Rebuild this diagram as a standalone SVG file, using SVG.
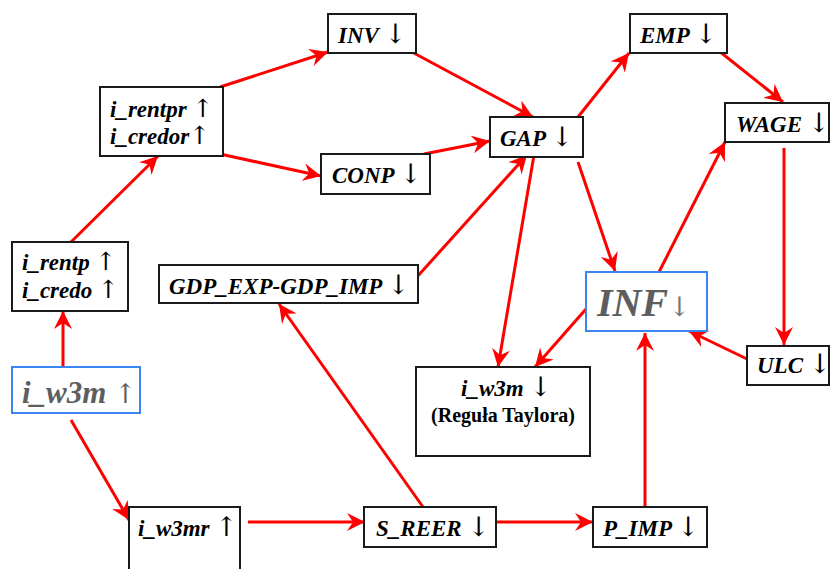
<svg xmlns="http://www.w3.org/2000/svg" width="830" height="569" viewBox="0 0 830 569">
  <defs>
    <marker id="head" markerWidth="19" markerHeight="18" refX="18" refY="9" orient="auto" markerUnits="userSpaceOnUse">
      <path d="M0,0 L18,9 L0,18 L6,9 z" fill="#ff0000"/>
    </marker>
    <style>
      .box { fill: #ffffff; stroke: #1a1a1a; stroke-width: 2; }
      .hub { fill: #ffffff; stroke: #3a86f0; stroke-width: 2; }
      .lbl { font-family: "Liberation Serif", "Times New Roman", serif; font-weight: bold; font-style: italic; font-size: 23px; fill: #000000; }
      .big { font-family: "Liberation Serif", "Times New Roman", serif; font-weight: bold; font-style: italic; fill: #5e5e5e; }
      .arw { font-weight: normal; font-style: normal; font-family: "DejaVu Serif", serif; font-size: 27px; }
      .sm { font-size: 25px; }
      .sub { font-family: "Liberation Serif", "Times New Roman", serif; font-weight: bold; font-size: 20px; fill: #000000; }
      .link { stroke: #ff0000; stroke-width: 3; fill: none; marker-end: url(#head); }
    </style>
  </defs>
  <rect width="830" height="569" fill="#ffffff"/>

  <g id="connectors">
    <line class="link" x1="63" y1="367" x2="63" y2="311"/>
    <line class="link" x1="71" y1="242" x2="158" y2="156"/>
    <line class="link" x1="220" y1="87" x2="328" y2="52"/>
    <line class="link" x1="220" y1="154" x2="321" y2="176"/>
    <line class="link" x1="410" y1="51" x2="533" y2="117"/>
    <line class="link" x1="424" y1="154" x2="490" y2="141"/>
    <line class="link" x1="416" y1="278" x2="527" y2="155"/>
    <line class="link" x1="578" y1="117" x2="629" y2="53"/>
    <line class="link" x1="719" y1="51" x2="783" y2="102"/>
    <line class="link" x1="578" y1="162" x2="615" y2="271"/>
    <line class="link" x1="659" y1="272" x2="725" y2="142"/>
    <line class="link" x1="784" y1="148" x2="784" y2="345"/>
    <line class="link" x1="747" y1="359" x2="689" y2="331"/>
    <line class="link" x1="534" y1="155" x2="498" y2="367"/>
    <line class="link" x1="586" y1="309" x2="535" y2="367"/>
    <line class="link" x1="645" y1="507" x2="645" y2="333"/>
    <line class="link" x1="423" y1="507" x2="279" y2="304"/>
    <line class="link" x1="491" y1="522" x2="593" y2="522"/>
    <line class="link" x1="248" y1="522" x2="365" y2="522"/>
    <line class="link" x1="71" y1="420" x2="129" y2="520"/>
  </g>

  <g id="i_rentpr">
    <rect class="box" x="100" y="87" width="123" height="69"/>
    <text class="lbl" x="110" y="117">i_rentpr <tspan class="arw sm">↑</tspan></text>
    <text class="lbl" x="110" y="144">i_credor<tspan class="arw sm">↑</tspan></text>
  </g>
  <g id="i_rentp">
    <rect class="box" x="12" y="242" width="116" height="69"/>
    <text class="lbl" x="22" y="270">i_rentp <tspan class="arw sm">↑</tspan></text>
    <text class="lbl" x="22" y="298">i_credo <tspan class="arw sm">↑</tspan></text>
  </g>
  <g id="i_w3m_up">
    <rect class="hub" x="12" y="367" width="128" height="46"/>
    <text class="big" x="22" y="403" font-size="31">i_w3m <tspan class="arw" font-size="36">↑</tspan></text>
  </g>
  <g id="INV">
    <rect class="box" x="328" y="14" width="88" height="39"/>
    <text class="lbl" x="338" y="43">INV <tspan class="arw">↓</tspan></text>
  </g>
  <g id="CONP">
    <rect class="box" x="321" y="154" width="109" height="40"/>
    <text class="lbl" x="332" y="183">CONP <tspan class="arw">↓</tspan></text>
  </g>
  <g id="GAP">
    <rect class="box" x="490" y="117" width="93" height="40"/>
    <text class="lbl" x="500" y="146">GAP <tspan class="arw">↓</tspan></text>
  </g>
  <g id="EMP">
    <rect class="box" x="630" y="14" width="97" height="39"/>
    <text class="lbl" x="640" y="43">EMP <tspan class="arw">↓</tspan></text>
  </g>
  <g id="WAGE">
    <rect class="box" x="725" y="103" width="104" height="39"/>
    <text class="lbl" x="736" y="132">WAGE <tspan class="arw">↓</tspan></text>
  </g>
  <g id="GDP_EXP-GDP_IMP">
    <rect class="box" x="159" y="265" width="259" height="38"/>
    <text class="lbl" x="169" y="294">GDP_EXP-GDP_IMP <tspan class="arw">↓</tspan></text>
  </g>
  <g id="INF">
    <rect class="hub" x="586" y="272" width="121" height="59"/>
    <text class="big" x="597" y="316" font-size="40">INF<tspan class="arw" font-size="40" fill="#777777">↓</tspan></text>
  </g>
  <g id="i_w3m_down">
    <rect class="box" x="416" y="367" width="174" height="89"/>
    <text class="lbl" x="461" y="396">i_w3m <tspan class="arw">↓</tspan></text>
    <text class="sub" x="503" y="422" text-anchor="middle">(Reguła Taylora)</text>
  </g>
  <g id="ULC">
    <rect class="box" x="747" y="346" width="82" height="39"/>
    <text class="lbl" x="757" y="373">ULC <tspan class="arw">↓</tspan></text>
  </g>
  <g id="i_w3mr">
    <rect class="box" x="129" y="507" width="111" height="80"/>
    <text class="lbl" x="138" y="536">i_w3mr <tspan class="arw">↑</tspan></text>
  </g>
  <g id="S_REER">
    <rect class="box" x="364" y="507" width="132" height="40"/>
    <text class="lbl" x="376" y="536">S_REER <tspan class="arw">↓</tspan></text>
  </g>
  <g id="P_IMP">
    <rect class="box" x="593" y="507" width="114" height="40"/>
    <text class="lbl" x="603" y="536">P_IMP <tspan class="arw">↓</tspan></text>
  </g>
</svg>
